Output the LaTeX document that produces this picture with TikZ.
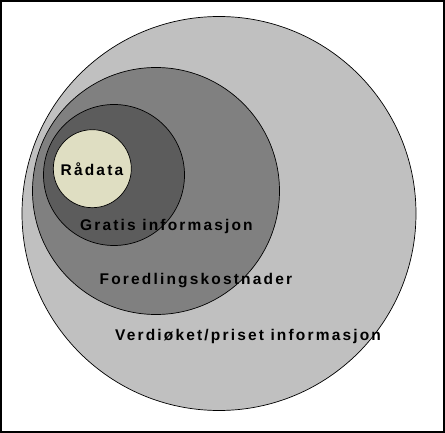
\documentclass[tikz,border=0pt]{standalone}
\usepackage{fontspec}
\usetikzlibrary{positioning}
\newfontfamily\ringfont{Liberation Sans}[LetterSpace=14]
\definecolor{verdigray}{HTML}{C0C0C0}
\definecolor{foredlgray}{HTML}{808080}
\definecolor{gratisgray}{HTML}{5C5C5C}
\definecolor{raabeige}{HTML}{DFDEC2}
\tikzset{
  ring/.style={circle, draw=black, line width=0.7pt, inner sep=0pt},
  ringlabel/.style={anchor=base west, inner sep=0pt,
    font=\ringfont\bfseries\fontsize{15.5}{18}\selectfont}
}

\begin{document}
\begin{tikzpicture}[x=1pt, y=-1pt]
    \useasboundingbox (0,0) rectangle (445,433);
    \draw[line width=2pt] (1,1) rectangle (444,432);
    % nested rings, largest first
    \node[ring, fill=verdigray, minimum size=394pt] (verdi) at (219,213.5) {};
    \node[ring, fill=foredlgray, minimum size=247pt] (foredl) at (156,191) {};
    \node[ring, fill=gratisgray, minimum size=141pt] (gratis) at (114,175) {};
    \node[ring, fill=raabeige, minimum size=78pt] (raa) at (92.3,168.7) {};
    % labels
    \node[ringlabel] (raalabel) at (60.5,176) {Rådata};
    \node[ringlabel] (gratislabel) at (80,230.5) {Gratis informasjon};
    \node[ringlabel] (foredllabel) at (99.5,284.5) {Foredlingskostnader};
    \node[ringlabel] (verdilabel) at (115,340) {Verdiøket/priset informasjon};
  \end{tikzpicture}
\end{document}
